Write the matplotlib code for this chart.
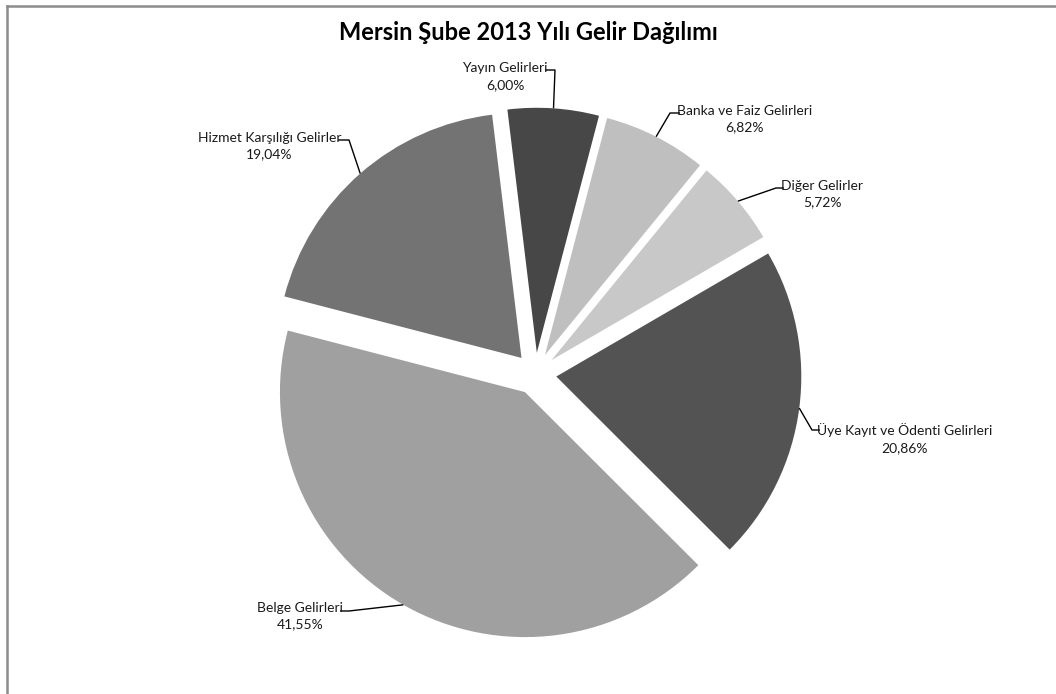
import matplotlib.pyplot as plt
import numpy as np
from matplotlib.lines import Line2D

plt.rcParams['font.family'] = ['Lato', 'DejaVu Sans']

# data
labels = ['Yayın Gelirleri', 'Banka ve Faiz Gelirleri', 'Diğer Gelirler',
          'Üye Kayıt ve Ödenti Gelirleri', 'Belge Gelirleri', 'Hizmet Karşılığı Gelirler']
values = [6.00, 6.82, 5.72, 20.86, 41.55, 19.04]
colors = ['#474747', '#bfbfbf', '#c8c8c8', '#535353', '#a0a0a0', '#737373']

W, H = 1056, 694
cx, cy, R = 535.4, 373.8, 245.0   # pie centre / radius in pixels
expl = 0.086

fig = plt.figure(figsize=(W / 100, H / 100), dpi=100)
ax = fig.add_axes([0, 0, 1, 1])
ax.axis('off')

wedges, _ = ax.pie(values, colors=colors, startangle=96.9, counterclock=False,
                   explode=[expl] * len(values), radius=1.0, normalize=True,
                   wedgeprops=dict(linewidth=0))
ax.set_xlim(-cx / R, (W - cx) / R)
ax.set_ylim(-(H - cy) / R, cy / R)
ax.set_aspect('auto')


def px(x, y):
    # pixel coords -> data coords
    return (x - cx) / R, (cy - y) / R


# label text anchor (pixels), alignment, leader elbow (pixels)
label_layout = [
    ((548, 77), 'right', (555, 70)),
    ((677, 119), 'left', (670, 113)),
    ((781, 194), 'left', (776, 188)),
    ((817, 439), 'left', (812, 430)),
    ((343, 616), 'right', (349, 611)),
    ((341, 146), 'right', (349, 140)),
]

for w, lab, v, (tpos, ha, elbow) in zip(wedges, labels, values, label_layout):
    mid = np.deg2rad((w.theta1 + w.theta2) / 2)
    ox, oy = w.center
    arc = (ox + np.cos(mid), oy + np.sin(mid))
    ex, ey = px(*elbow)
    tx, ty = px(*tpos)
    edge_x = tx + (0.012 if ha == 'left' else -0.012)
    ax.plot([arc[0], ex, edge_x], [arc[1], ey, ey], color='black', lw=1.0,
            solid_capstyle='butt')
    txt = '%s\n%s%%' % (lab, ('%.2f' % v).replace('.', ','))
    ax.text(tx, ty, txt, ha=ha, va='center', multialignment='center',
            fontsize=10, color='#1a1a1a', linespacing=1.5)

fig.text(0.5, 1 - 33 / H, 'Mersin Şube 2013 Yılı Gelir Dağılımı', ha='center',
         va='center', fontsize=17, fontweight='bold')

# chart frame (only top and left visible)
fig.add_artist(Line2D([6.5 / W, 1], [1 - 5.5 / H, 1 - 5.5 / H], transform=fig.transFigure,
                      color='#8c8c8c', lw=1.8))
fig.add_artist(Line2D([6.5 / W, 6.5 / W], [0, 1 - 5.5 / H], transform=fig.transFigure,
                      color='#8c8c8c', lw=1.8))

fig.savefig('out.png', dpi=100, facecolor='white')
